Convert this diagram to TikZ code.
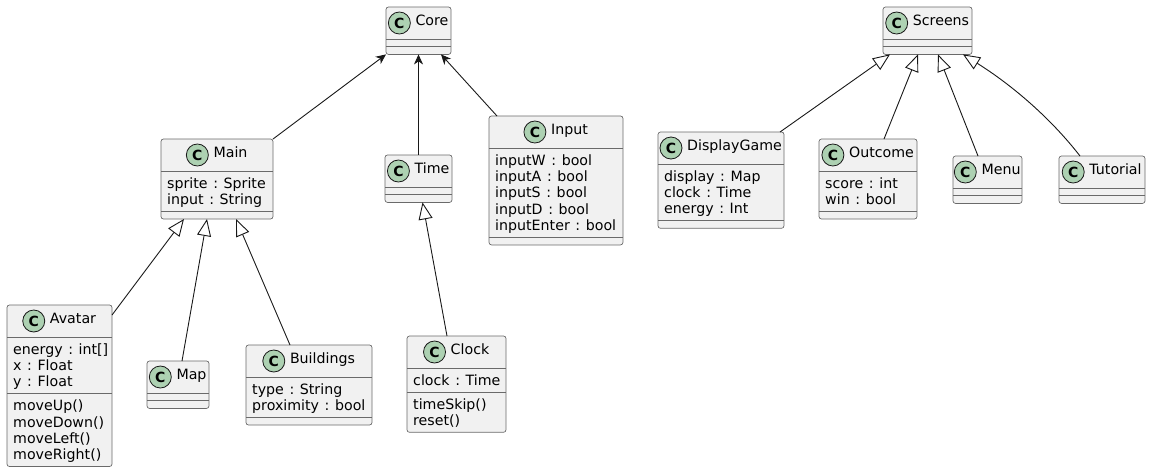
\documentclass[tikz,border=0pt]{standalone}
\usepackage{fontspec}
\setmainfont{DejaVu Sans}
\usetikzlibrary{arrows.meta}
\definecolor{boxfill}{HTML}{F1F1F1}
\definecolor{boxline}{HTML}{6A6A6A}
\definecolor{edgeline}{HTML}{181818}
\definecolor{iconfill}{HTML}{ADD1B2}
\newcommand{\umlfont}{\fontsize{14.2}{16.3}\selectfont\frenchspacing\spaceskip=5.6pt plus 1pt}
\tikzset{
  classbox/.style={
    rectangle, rounded corners=2.5pt, draw=boxline, line width=0.7pt,
    fill=boxfill, inner sep=0pt, outer sep=0pt
  },
  classsep/.style={draw=boxline, line width=0.7pt},
  classicon/.style={
    circle, draw=edgeline, line width=0.8pt, fill=iconfill,
    minimum size=22pt, inner sep=0pt, font=\bfseries\fontsize{14}{14}\selectfont
  },
  classname/.style={inner sep=0pt, font=\umlfont},
  classtext/.style={inner sep=0pt, font=\umlfont, align=left, anchor=north west},
  classarrow/.style={-{Stealth[length=10pt,width=9pt,inset=3pt]}, draw=edgeline, line width=0.9pt},
  extendarrow/.style={-{Triangle[length=17pt,width=14pt,fill=white]}, draw=edgeline, line width=0.9pt},
}
% #1 name, #2 left, #3 top, #4 width, #5 attribute lines, #6 method lines,
% #7 title, #8 attributes, #9 methods
\newcommand{\umlclass}[9]{%
  \pgfmathsetmacro{\attrh}{7.7+16.3*#5}%
  \pgfmathsetmacro{\methh}{7.7+16.3*#6}%
  \pgfmathsetmacro{\boxh}{32+\attrh+\methh}%
  \node[classbox, anchor=north west, minimum width=#4pt, minimum height=\boxh pt] (#1) at (#2,#3) {};
  \draw[classsep] ([yshift=-32pt]#1.north west) -- ([yshift=-32pt]#1.north east);
  \draw[classsep] ([yshift=-32pt-\attrh pt]#1.north west) -- ([yshift=-32pt-\attrh pt]#1.north east);
  \node[classname, anchor=mid] (#1-name) at ([xshift=13.5pt,yshift=-16pt]#1.north) {#7};
  \node[classicon] (#1-icon) at ([xshift=-16pt]#1-name.mid west) {C};
  \node[classtext] (#1-attr) at ([xshift=6pt,yshift=-37.6pt]#1.north west) {\strut#8};
  \node[classtext] (#1-meth) at ([xshift=6pt,yshift=-37.6pt-\attrh pt]#1.north west) {\strut#9};
}
\begin{document}
\begin{tikzpicture}[x=1pt, y=-1pt]
  \useasboundingbox (0,0) rectangle (1151,472);

  % game side
  \umlclass{Core}{386}{7}{65}{0}{0}{Core}{}{}
  \umlclass{Main}{161}{139}{112}{2}{0}{Main}{sprite : Sprite\\input : String}{}
  \umlclass{Time}{385}{155}{67}{0}{0}{Time}{}{}
  \umlclass{Input}{489}{116}{134}{5}{0}{Input}%
    {inputW : bool\\inputA : bool\\inputS : bool\\inputD : bool\\inputEnter : bool}{}
  \umlclass{Avatar}{7}{305}{105}{3}{4}{Avatar}%
    {energy : int[]\\x : Float\\y : Float}{moveUp()\\moveDown()\\moveLeft()\\moveRight()}
  \umlclass{Map}{147}{361}{62}{0}{0}{Map}{}{}
  \umlclass{Buildings}{246}{345}{126}{2}{0}{Buildings}{type : String\\proximity : bool}{}
  \umlclass{Clock}{407}{336}{99}{1}{2}{Clock}{clock : Time}{timeSkip()\\reset()}

  % screen side
  \umlclass{Screens}{883}{7}{89}{0}{0}{Screens}{}{}
  \umlclass{DisplayGame}{658}{132}{126}{3}{0}{DisplayGame}%
    {display : Map\\clock : Time\\energy : Int}{}
  \umlclass{Outcome}{819}{139}{98}{2}{0}{Outcome}{score : int\\win : bool}{}
  \umlclass{Menu}{953}{156}{69}{0}{0}{Menu}{}{}
  \umlclass{Tutorial}{1059}{156}{86}{0}{0}{Tutorial}{}{}

  \draw[classarrow] (Main.north east) -- (Core.south west);
  \draw[classarrow] (Time.north) -- (Core.south);
  \draw[classarrow] ([xshift=8pt]Input.north west) -- ([xshift=-10pt]Core.south east);

  \draw[extendarrow] ([yshift=-10pt]Avatar.north east) -- ([xshift=-33pt]Main.south);
  \draw[extendarrow] ([xshift=4pt]Map.north) -- ([xshift=-10pt]Main.south);
  \draw[extendarrow] ([xshift=-19pt]Buildings.north) -- ([xshift=19pt]Main.south);
  \draw[extendarrow] ([xshift=-9.5pt]Clock.north) -- ([xshift=4pt]Time.south);

  \draw[extendarrow] ([xshift=-4pt]DisplayGame.north east) -- ([xshift=7pt]Screens.south west);
  \draw[extendarrow] ([xshift=16pt]Outcome.north) -- ([xshift=-9.5pt]Screens.south);
  \draw[extendarrow] ([xshift=-9.5pt]Menu.north) -- ([xshift=10.5pt]Screens.south);
  \draw[extendarrow] ([xshift=-22pt]Tutorial.north)
    .. controls +(-35,-45) and +(40,25) .. ([xshift=-9pt]Screens.south east);
\end{tikzpicture}
\end{document}
